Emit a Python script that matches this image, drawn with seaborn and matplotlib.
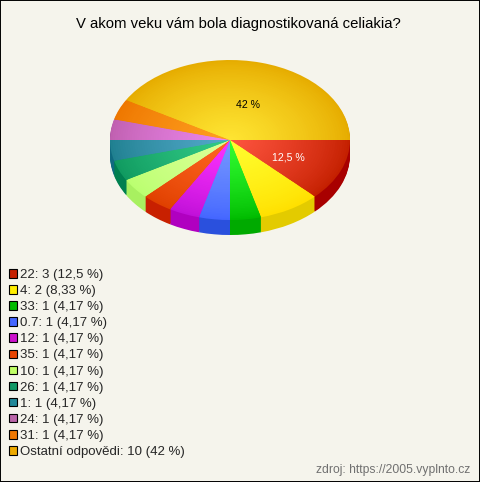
import numpy as np
import matplotlib
matplotlib.use("Agg")
import matplotlib.pyplot as plt
from matplotlib.colors import to_rgb
from matplotlib.patches import Patch, Rectangle
import seaborn as sns

title = "V akom veku vám bola diagnostikovaná celiakia?"
categories = ["22", "4", "33", "0.7", "12", "35", "10", "26", "1", "24", "31", "Ostatní odpovědi"]
counts = [3, 2, 1, 1, 1, 1, 1, 1, 1, 1, 1, 10]
percents = ["12,5", "8,33", "4,17", "4,17", "4,17", "4,17", "4,17", "4,17", "4,17", "4,17", "4,17", "42"]
legend_colors = ["#c42000", "#ffee00", "#00bb00", "#4466ff", "#cc11cc", "#e84400",
                 "#c0ff66", "#119966", "#228899", "#bb66aa", "#ee7700", "#eeaa00"]
edge_colors = ["#c42000", "#ffe000", "#00bb00", "#4466ff", "#c010d8", "#e04000",
               "#baff70", "#109a60", "#208090", "#c060b0", "#ee7700", "#e6ac00"]
center_colors = ["#ff5540", "#ffff30", "#33ff33", "#7799ff", "#ff33ff", "#ff6622",
                 "#ddff99", "#33cc88", "#55aacc", "#ee88ee", "#ffa020", "#ffe633"]
side_colors = ["#a80000", "#e3cb00", "#00aa00", "#2a50dd", "#b000c0", "#c82000",
               "#a8f060", "#008050", "#106a80", "#904090", "#c06000", "#c08800"]
BG = "#f5f4ec"
W, H = 480, 482
CX, CY, RX, RY, DEPTH = 230, 140, 120, 80, 15

sns.set_theme(style="white")
plt.rcParams["font.family"] = ["Liberation Sans", "DejaVu Sans"]

fig = plt.figure(figsize=(W / 100, H / 100), dpi=100, facecolor=BG)
ax = fig.add_axes([0, 0, 1, 1], facecolor=BG)

# side of the pie: stacked copies from the bottom up
side_pal = sns.color_palette(side_colors)
for d in np.arange(DEPTH, 0, -1.0):
    ax.pie(counts, colors=side_pal, startangle=0, counterclock=False,
           center=(0, -d / RY), radius=1, wedgeprops=dict(linewidth=0))

# top of the pie: concentric pies fake the radial gradient
edge = np.array([to_rgb(c) for c in edge_colors])
centre = np.array([to_rgb(c) for c in center_colors])
for r in np.linspace(1, 0.02, 50):
    t = (1 - r) ** 0.8
    cols = [tuple(np.clip(c, 0, 1)) for c in edge + (centre - edge) * t]
    ax.pie(counts, colors=cols, startangle=0, counterclock=False,
           center=(0, 0), radius=r, wedgeprops=dict(linewidth=0))

ax.set_aspect("auto")
ax.set_xlim(-CX / RX, (W - CX) / RX)
ax.set_ylim(-(H - CY) / RY, CY / RY)

ax.text(18 / RX, 35 / RY, f"{percents[-1]} %", color="black", fontsize=7.6, ha="center", va="center")
ax.text(58 / RX, -17 / RY, f"{percents[0]} %", color="white", fontsize=7.6, ha="center", va="center")

fig.text(238 / W, 1 - 24 / H, title, fontsize=10.7, color="black", ha="center", va="center")
fig.text(470 / W, 1 - 470 / H, "zdroj: https://2005.vyplnto.cz", fontsize=8.7,
         color="#707070", ha="right", va="center")

handles = [Patch(facecolor=c, edgecolor="black", linewidth=0.8) for c in legend_colors]
labels = [f"{c}: {n} ({p} %)" for c, n, p in zip(categories, counts, percents)]
ax.legend(handles, labels, loc="lower left", bbox_to_anchor=(9 / W, 1 - 458 / H),
          bbox_transform=fig.transFigure, frameon=False, fontsize=9.5, labelspacing=0.31,
          handlelength=0.62, handleheight=0.62, handletextpad=0.22, borderpad=0, borderaxespad=0)

fig.add_artist(Rectangle((0, 0), 1, 1, transform=fig.transFigure, fill=False,
                         edgecolor="black", linewidth=1.4))
fig.savefig("out.png", dpi=100, facecolor=BG)
